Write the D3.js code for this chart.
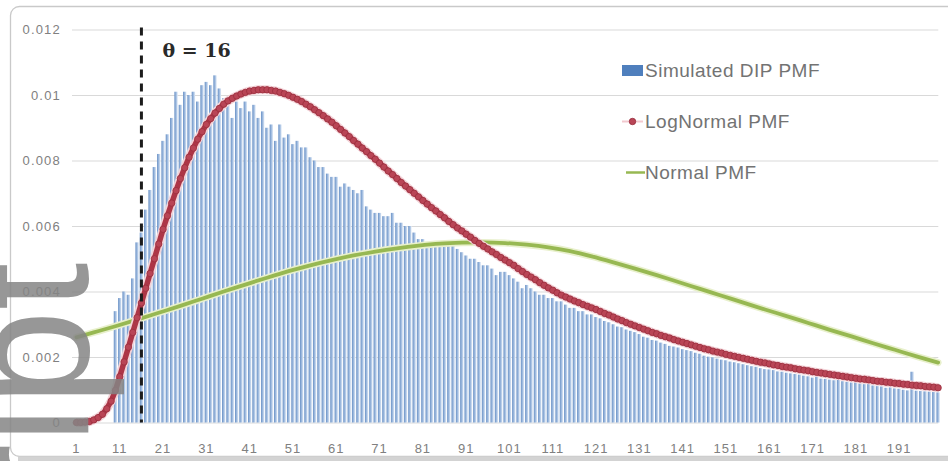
<!DOCTYPE html>
<html>
<head>
<meta charset="utf-8">
<script src="https://cdn.jsdelivr.net/npm/d3@7"></script>
<style>
  html, body { margin: 0; padding: 0; background: #ffffff; }
  svg { display: block; }
</style>
</head>
<body>
<svg id="chart" width="948" height="461"></svg>
<script>
// ---- data ----
const categories = d3.range(1, 201);

const simulatedDip = [
  0, 0, 0, 0, 0, 0, 0, 0, 0,
  0.0034, 0.0038, 0.0040, 0.0039, 0.0044, 0.0055, 0.0058, 0.0065, 0.0071, 0.0078, 0.0082,
  0.0086, 0.0088, 0.0093, 0.0101, 0.0097, 0.0101, 0.0100, 0.0101, 0.0098, 0.0103,
  0.0104, 0.0103, 0.0106, 0.0102, 0.0099, 0.0097, 0.0093, 0.0098, 0.0096, 0.0098,
  0.0095, 0.0097, 0.0093, 0.0095, 0.0090, 0.0091, 0.0086, 0.0091, 0.0087, 0.0088,
  0.0085, 0.0086, 0.0084, 0.0084, 0.0081, 0.0080, 0.0078, 0.0078, 0.0076, 0.0075,
  0.0075, 0.0072, 0.0073, 0.0072, 0.0071, 0.0070, 0.0071, 0.0066, 0.0065, 0.0064,
  0.0064, 0.0063, 0.0063, 0.0064, 0.0061, 0.0061, 0.0060, 0.0060, 0.0058, 0.0056,
  0.0056, 0.0055, 0.0055, 0.0055, 0.0054, 0.0055, 0.0054, 0.0054, 0.0053, 0.0052,
  0.0051, 0.0050, 0.0050, 0.0049, 0.0048, 0.0048, 0.0047, 0.0045, 0.0046, 0.0046,
  0.0045, 0.0044, 0.0043, 0.0041, 0.0042, 0.0041, 0.0040, 0.0039, 0.0039, 0.0038,
  0.0038, 0.0037, 0.0037, 0.0036, 0.0035, 0.0035, 0.0034, 0.0034, 0.0033, 0.0033,
  0.00322, 0.00318, 0.00310, 0.00306, 0.00300, 0.00293, 0.00291, 0.00284, 0.00280, 0.00276,
  0.00270, 0.00262, 0.00259, 0.00252, 0.00250, 0.00244, 0.00240, 0.00234, 0.00232, 0.00229,
  0.00224, 0.00221, 0.00218, 0.00213, 0.00210, 0.00204, 0.00201, 0.00199, 0.00195, 0.00192,
  0.00190, 0.00186, 0.00184, 0.00181, 0.00178, 0.00175, 0.00172, 0.00170, 0.00166, 0.00163,
  0.00162, 0.00160, 0.00156, 0.00155, 0.00152, 0.00150, 0.00148, 0.00146, 0.00143, 0.00141,
  0.00137, 0.00140, 0.00134, 0.00133, 0.00131, 0.00129, 0.00130, 0.00126, 0.00124, 0.00122,
  0.00123, 0.00119, 0.00117, 0.00118, 0.00113, 0.00111, 0.00110, 0.00106, 0.00107, 0.00104,
  0.00103, 0.00100, 0.00098, 0.00155, 0.00097, 0.00096, 0.00095, 0.00094, 0.00093, 0.00092
];

const logNormalPmf = [
  0.00000, 0.00000, 0.00001, 0.00003, 0.00008, 0.00015, 0.00025, 0.00042, 0.00065, 0.00098,
  0.00140, 0.00185, 0.00230, 0.00275, 0.00320, 0.00365, 0.00410, 0.00455, 0.00500, 0.00545,
  0.00590, 0.00631, 0.00670, 0.00708, 0.00745, 0.00778, 0.00810, 0.00838, 0.00865, 0.00888,
  0.00910, 0.00928, 0.00945, 0.00959, 0.00972, 0.00982, 0.00990, 0.00997, 0.01003, 0.01008,
  0.01012, 0.01014, 0.01016, 0.01016, 0.01016, 0.01014, 0.01012, 0.01008, 0.01004, 0.00999,
  0.00993, 0.00987, 0.00980, 0.00972, 0.00964, 0.00955, 0.00946, 0.00937, 0.00927, 0.00917,
  0.00906, 0.00895, 0.00884, 0.00873, 0.00861, 0.00850, 0.00838, 0.00827, 0.00815, 0.00804,
  0.00792, 0.00780, 0.00768, 0.00757, 0.00745, 0.00733, 0.00722, 0.00711, 0.00700, 0.00689,
  0.00678, 0.00667, 0.00656, 0.00646, 0.00635, 0.00625, 0.00614, 0.00604, 0.00594, 0.00585,
  0.00575, 0.00566, 0.00556, 0.00547, 0.00538, 0.00530, 0.00521, 0.00513, 0.00504, 0.00496,
  0.00488, 0.00480, 0.00470, 0.00461, 0.00452, 0.00444, 0.00436, 0.00427, 0.00419, 0.00411,
  0.00404, 0.00396, 0.00389, 0.00383, 0.00377, 0.00371, 0.00366, 0.00360, 0.00355, 0.00350,
  0.00345, 0.00339, 0.00333, 0.00328, 0.00322, 0.00316, 0.00311, 0.00305, 0.00300, 0.00295,
  0.00290, 0.00285, 0.00280, 0.00275, 0.00271, 0.00266, 0.00262, 0.00258, 0.00253, 0.00249,
  0.00245, 0.00241, 0.00237, 0.00233, 0.00229, 0.00225, 0.00222, 0.00218, 0.00215, 0.00212,
  0.00208, 0.00205, 0.00202, 0.00199, 0.00196, 0.00193, 0.00190, 0.00187, 0.00184, 0.00182,
  0.00179, 0.00176, 0.00174, 0.00171, 0.00169, 0.00167, 0.00164, 0.00162, 0.00160, 0.00158,
  0.00155, 0.00153, 0.00151, 0.00149, 0.00147, 0.00145, 0.00143, 0.00141, 0.00139, 0.00137,
  0.00135, 0.00133, 0.00132, 0.00130, 0.00128, 0.00126, 0.00125, 0.00123, 0.00122, 0.00120,
  0.00119, 0.00117, 0.00116, 0.00114, 0.00113, 0.00112, 0.00110, 0.00109, 0.00108, 0.00106
];

// Normal PMF, sampled along the curve
const normalCats = [1, 5, 10, 15, 20, 25, 30, 35, 40, 45, 50, 55, 60, 65, 70, 75, 80, 85, 90, 95, 100,
  105, 110, 115, 120, 125, 130, 135, 140, 145, 150, 155, 160, 165, 170, 175, 180, 185, 190, 195, 200];
const normalPmf = [0.00260, 0.00275, 0.00294, 0.00314, 0.00335, 0.00356, 0.00378, 0.00400, 0.00421, 0.00442,
  0.00462, 0.00480, 0.00496, 0.00510, 0.00522, 0.00532, 0.00540, 0.00546, 0.00549, 0.00550, 0.00548,
  0.00543, 0.00535, 0.00523, 0.00507, 0.00489, 0.00470, 0.00450, 0.00429, 0.00408, 0.00387,
  0.00366, 0.00345, 0.00325, 0.00304, 0.00283, 0.00263, 0.00242, 0.00222, 0.00202, 0.00183];

const xTickCats = [1, 11, 21, 31, 41, 51, 61, 71, 81, 91, 101, 111, 121, 131, 141, 151, 161, 171, 181, 191];
const yTickValues = [0, 0.002, 0.004, 0.006, 0.008, 0.01, 0.012];
const yTickLabels = ["0", "0.002", "0.004", "0.006", "0.008", "0.01", "0.012"];
const seriesNames = ["Simulated DIP PMF", "LogNormal PMF", "Normal PMF"];
const theta = 16;

// ---- layout ----
const svg = d3.select("#chart");
const plotLeft = 74.3, plotRight = 940.3, plotTop = 29.5, plotBottom = 422.5;

const x = d3.scaleBand().domain(categories).range([plotLeft, plotRight]).padding(0);
const xc = c => x(c) + x.bandwidth() / 2;
const y = d3.scaleLinear().domain([0, 0.012]).range([plotBottom, plotTop]);

// gradient for the bars
const defs = svg.append("defs");
const grad = defs.append("linearGradient").attr("id", "barFill")
  .attr("x1", "0").attr("y1", "0").attr("x2", "1").attr("y2", "0");
grad.append("stop").attr("offset", "0%").attr("stop-color", "#6890c5");
grad.append("stop").attr("offset", "55%").attr("stop-color", "#a3bee1");
grad.append("stop").attr("offset", "100%").attr("stop-color", "#e2ebf7");

// chart frame
svg.append("rect").attr("x", 10.5).attr("y", 6.5).attr("width", 960).attr("height", 450)
  .attr("rx", 9).attr("fill", "#ffffff").attr("stroke", "#c9c9c9").attr("stroke-width", 1.3);
svg.append("rect").attr("x", 18).attr("y", 456.5).attr("width", 940).attr("height", 5)
  .attr("fill", "#d3d3d3");

// y axis with gridlines
const yAxis = d3.axisLeft(y)
  .tickValues(yTickValues)
  .tickFormat((d, i) => yTickLabels[i])
  .tickSize(-(plotRight - 2 - 72))
  .tickPadding(11);
const gy = svg.append("g").attr("transform", "translate(72,0)").call(yAxis);
gy.select(".domain").remove();
gy.selectAll(".tick line").attr("stroke", "#d9d9d9").attr("stroke-width", 1);
gy.selectAll(".tick text")
  .attr("fill", "#808080")
  .style("font-family", "'Liberation Sans', Arial, sans-serif")
  .style("font-size", "13px")
  .style("letter-spacing", "1.2px");

// bars
const barW = x.bandwidth() * 0.78;
svg.append("g").selectAll("rect")
  .data(categories.map((c, i) => ({ c, v: simulatedDip[i] })).filter(d => d.v > 0))
  .join("rect")
  .attr("x", d => xc(d.c) - barW / 2)
  .attr("y", d => y(d.v))
  .attr("width", barW)
  .attr("height", d => y(0) - y(d.v))
  .attr("fill", "url(#barFill)");

// x axis labels
const xAxis = d3.axisBottom(x).tickValues(xTickCats).tickSize(0).tickPadding(21);
const gx = svg.append("g").attr("transform", `translate(0,${plotBottom})`).call(xAxis);
gx.select(".domain").remove();
gx.selectAll(".tick text")
  .attr("fill", "#808080")
  .style("font-family", "'Liberation Sans', Arial, sans-serif")
  .style("font-size", "13px")
  .style("letter-spacing", "1px");

// normal curve
const normalLine = d3.line()
  .x((d, i) => xc(normalCats[i]))
  .y(d => y(d))
  .curve(d3.curveMonotoneX);
svg.append("path").datum(normalPmf)
  .attr("d", normalLine)
  .attr("fill", "none")
  .attr("stroke", "#e8f0cc").attr("stroke-width", 7).attr("stroke-linecap", "round");
svg.append("path").datum(normalPmf)
  .attr("d", normalLine)
  .attr("fill", "none")
  .attr("stroke", "#97b852").attr("stroke-width", 3.8).attr("stroke-linecap", "round");

// lognormal curve with markers
const logLine = d3.line()
  .x((d, i) => xc(categories[i]))
  .y(d => y(d));
svg.append("path").datum(logNormalPmf)
  .attr("d", logLine)
  .attr("fill", "none")
  .attr("stroke", "#f3d3d8").attr("stroke-width", 9).attr("stroke-linejoin", "round");
svg.append("path").datum(logNormalPmf)
  .attr("d", logLine)
  .attr("fill", "none")
  .attr("stroke", "#ad3647").attr("stroke-width", 5.5).attr("stroke-linejoin", "round");
svg.append("g").selectAll("circle")
  .data(logNormalPmf)
  .join("circle")
  .attr("cx", (d, i) => xc(categories[i]))
  .attr("cy", d => y(d))
  .attr("r", 3.2)
  .attr("fill", "#b94556")
  .attr("stroke", "#9a2f3e")
  .attr("stroke-width", 0.8);

// theta marker
const thetaX = xc(theta);
svg.append("line")
  .attr("x1", thetaX).attr("x2", thetaX)
  .attr("y1", y(0.012) - 2).attr("y2", y(0))
  .attr("stroke", "#1c1c1c").attr("stroke-width", 3)
  .attr("stroke-dasharray", "8,6");
svg.append("text")
  .attr("x", thetaX + 21).attr("y", 57)
  .attr("fill", "#2a2a2a")
  .style("font-family", "'DejaVu Serif', serif")
  .style("font-weight", "bold")
  .style("font-size", "19px")
  .text(`θ = ${theta}`);

// legend
const legend = svg.append("g")
  .style("font-family", "'Liberation Sans', Arial, sans-serif")
  .style("font-size", "19px")
  .style("letter-spacing", "0.5px");
const rowY = [70.5, 121.5, 172.5];
legend.append("rect").attr("x", 622).attr("y", rowY[0] - 5.5).attr("width", 21).attr("height", 11)
  .attr("fill", "#4f7fbd");
legend.append("line").attr("x1", 622).attr("x2", 643).attr("y1", rowY[1]).attr("y2", rowY[1])
  .attr("stroke", "#f2c9cf").attr("stroke-width", 2);
legend.append("circle").attr("cx", 632.5).attr("cy", rowY[1]).attr("r", 3.2)
  .attr("fill", "#b94556").attr("stroke", "#9a2f3e").attr("stroke-width", 0.9);
legend.append("line").attr("x1", 626).attr("x2", 645).attr("y1", rowY[2]).attr("y2", rowY[2])
  .attr("stroke", "#97b852").attr("stroke-width", 2.5);
legend.selectAll("text.lbl")
  .data(seriesNames)
  .join("text")
  .attr("class", "lbl")
  .attr("x", 645)
  .attr("y", (d, i) => rowY[i] + 6.8)
  .attr("fill", "#737373")
  .text(d => d);

// large grey lettering along the left edge
svg.append("text")
  .attr("transform", "translate(88,702) rotate(-90)")
  .attr("fill", "#858585")
  .attr("opacity", 0.85)
  .style("font-family", "'Liberation Sans', Arial, sans-serif")
  .style("font-size", "172px")
  .text("Script");
</script>
</body>
</html>
